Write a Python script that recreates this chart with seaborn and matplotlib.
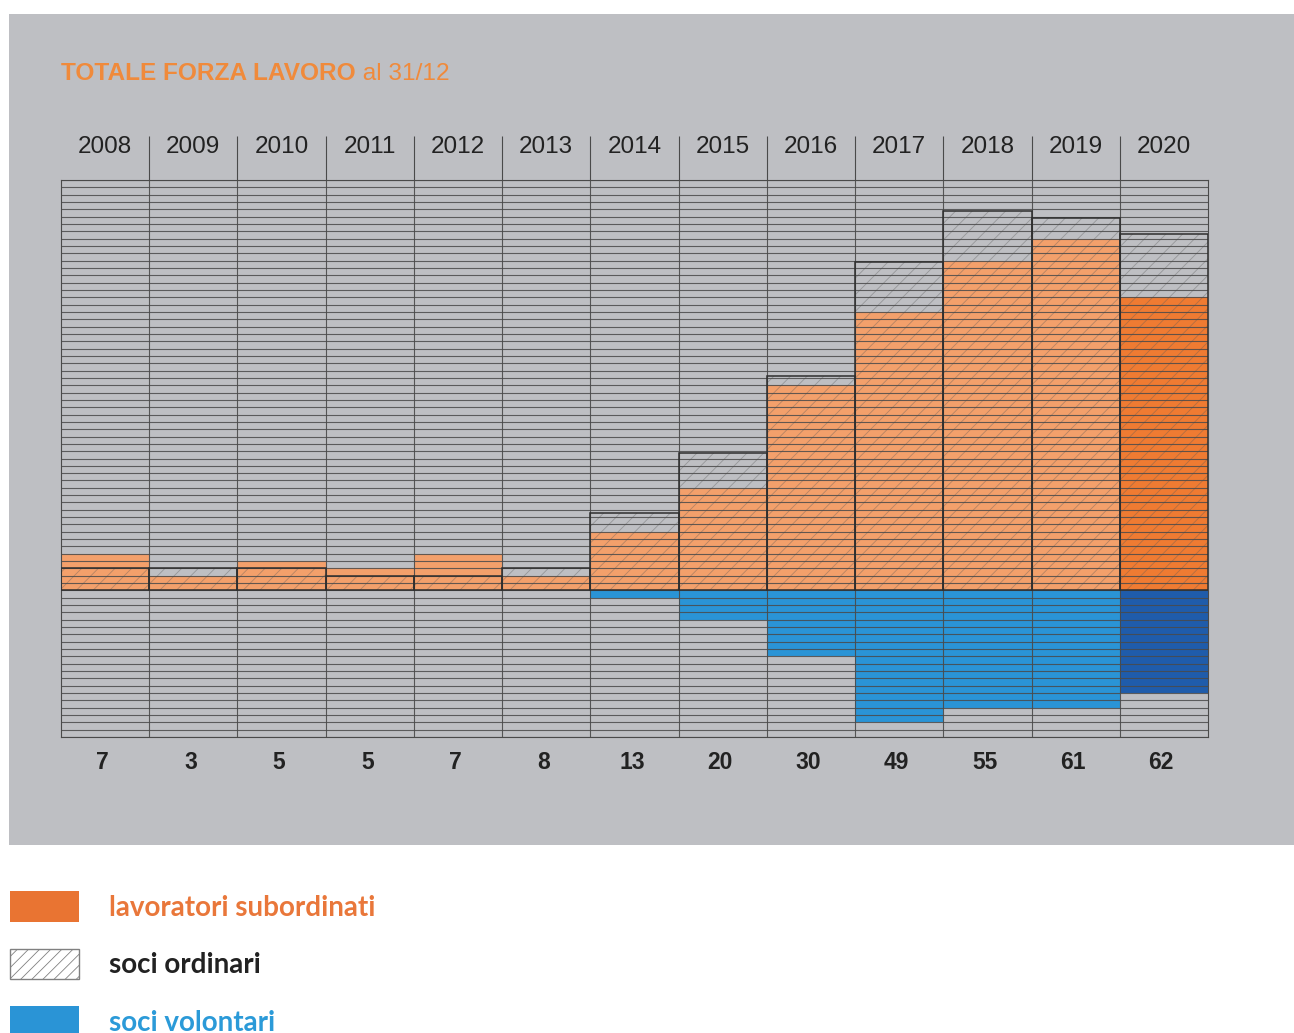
import numpy as np
import seaborn as sns
import matplotlib.pyplot as plt
import matplotlib.patches as mpatches
from matplotlib.transforms import blended_transform_factory

# data
years = ["2008", "2009", "2010", "2011", "2012", "2013", "2014",
         "2015", "2016", "2017", "2018", "2019", "2020"]
lavoratori_subordinati = [5, 2, 4, 3, 5, 2, 8, 14, 28, 38, 45, 48, 40]
soci_ordinari = [3, 3, 3, 2, 2, 3, 10.6, 18.7, 29.3, 44.8, 51.8, 50.8, 48.6]
soci_volontari = [0, 0, 0, 0, 0, 0, 1, 4, 9, 18, 16, 16, 14]
totali = [7, 3, 5, 5, 7, 8, 13, 20, 30, 49, 55, 61, 62]

panel_gray = "#bebfc3"
orange_light, orange_dark = "#f3a06b", "#ef7b32"
blue_light, blue_dark = "#2a94d6", "#1f5cab"
grid_col = "#4a4a4a"

plt.rcParams["font.family"] = ["Liberation Sans", "DejaVu Sans"]
plt.rcParams["hatch.linewidth"] = 0.6

fig = plt.figure(figsize=(12.94, 10.33), dpi=100, facecolor="white")
W, H = 1294, 1033

# grey panel behind the chart
fig.patches.append(mpatches.Rectangle((9 / W, 1 - 845 / H), 1 - 9 / W, (845 - 14) / H,
                                      transform=fig.transFigure, facecolor=panel_gray,
                                      edgecolor="none", zorder=-1))

ax = fig.add_axes([61 / W, 1 - 737 / H, (1208 - 61) / W, (737 - 180) / H])
ax.set_facecolor("none")

# the last year is highlighted with darker colours
pal_orange = [orange_light] * (len(years) - 1) + [orange_dark]
pal_blue = [blue_light] * (len(years) - 1) + [blue_dark]

sns.barplot(x=years, y=lavoratori_subordinati, hue=years, palette=pal_orange,
            width=1, saturation=1, linewidth=0, legend=False, ax=ax)
sns.barplot(x=years, y=-np.array(soci_volontari), hue=years, palette=pal_blue,
            width=1, saturation=1, linewidth=0, legend=False, ax=ax)

# soci ordinari: hatched box drawn over the orange bar
n0 = len(ax.patches)
sns.barplot(x=years, y=soci_ordinari, color="white", width=1, saturation=1,
            linewidth=0, ax=ax)
for p in ax.patches[n0:]:
    p.set_facecolor("none")
    p.set_edgecolor((0.35, 0.35, 0.35, 0.4))
    p.set_hatch("//")
    p.set_linewidth(0)
    p.set_zorder(1.5)
n1 = len(ax.patches)
sns.barplot(x=years, y=soci_ordinari, color="#2e2e2e", fill=False, width=1,
            linewidth=1.1, ax=ax)
for p in ax.patches[n1:]:
    p.set_zorder(3)

ax.set_xlim(-0.5, len(years) - 0.5)
ax.set_ylim(-20, 56)

# one thin line per unit, drawn over the bars
ax.set_yticks(range(-20, 57))
ax.set_yticklabels([])
ax.tick_params(axis="y", length=0)
ax.set_axisbelow(False)
ax.grid(axis="y", which="major", color=grid_col, linewidth=0.8, alpha=0.85)

ax.set_xticks(range(len(years)))
ax.set_xticklabels(years)
ax.set_xticks(np.arange(0.5, len(years) - 1, 1), minor=True)
ax.grid(axis="x", which="minor", color=grid_col, linewidth=0.8, alpha=0.9)
ax.tick_params(axis="x", which="major", top=True, labeltop=True, bottom=False,
               labelbottom=False, length=0, pad=16, labelsize=17.5, labelcolor="#222222")
ax.tick_params(axis="x", which="minor", top=True, bottom=False, length=32,
               direction="out", color=grid_col, width=0.8)
ax.set_xlabel("")
ax.set_ylabel("")
for s in ax.spines.values():
    s.set_color(grid_col)
    s.set_linewidth(0.8)

# totals under each column
trans = blended_transform_factory(ax.transData, ax.transAxes)
for i, t in enumerate(totali):
    ax.text(i - 0.03, -0.045, str(t), transform=trans, ha="center", va="center",
            fontsize=16.5, fontweight="bold", color="#222222")

# title
title_orange = "#f08a3b"
t1 = fig.text(61 / W, 1 - 74 / H, "TOTALE FORZA LAVORO", fontsize=17.6,
              fontweight="bold", color=title_orange, va="center", ha="left")
ax.annotate(" al 31/12", xy=(1, 0.5), xycoords=t1, va="center", ha="left",
            fontsize=17.6, color=title_orange, annotation_clip=False)

# legend below the panel
handles = [
    mpatches.Patch(facecolor="#e97432", edgecolor="none"),
    mpatches.Patch(facecolor="white", edgecolor="#808080", hatch="///", linewidth=1),
    mpatches.Patch(facecolor="#2a94d6", edgecolor="none"),
]
labels = ["lavoratori subordinati", "soci ordinari", "soci volontari"]
leg = fig.legend(handles, labels, loc="upper left", bbox_to_anchor=(10 / W, 1 - 891 / H),
                 frameon=False, prop={"family": "Lato", "weight": "bold", "size": 20},
                 handlelength=2.5, handleheight=1.32, handletextpad=1.05,
                 labelspacing=0.97, borderpad=0, borderaxespad=0)
for txt, c in zip(leg.get_texts(), ["#e9773a", "#222222", "#2b9ad8"]):
    txt.set_color(c)

fig.savefig("out.png", dpi=100, facecolor="white")
